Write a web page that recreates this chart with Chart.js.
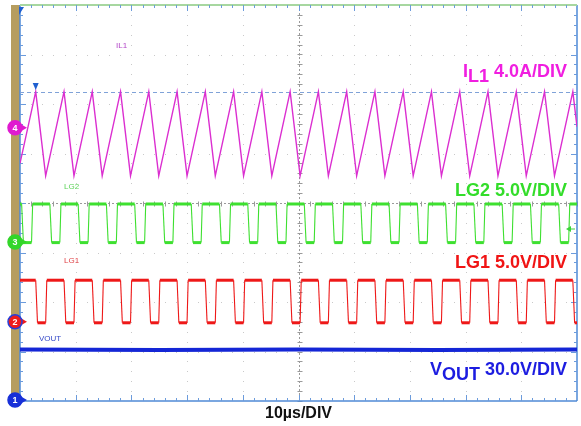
<!DOCTYPE html>
<html>
<head>
<meta charset="utf-8">
<title>Boost converter switching waveforms</title>
<script src="https://cdn.jsdelivr.net/npm/chart.js@4.4.1/dist/chart.umd.min.js"></script>
<style>
  html, body { margin: 0; padding: 0; background: #fff; }
  #scope { display: block; }
</style>
</head>
<body>
<canvas id="scope" width="581" height="426"></canvas>
<script>
// time base: 10 divisions of 10 us, vertical: 8 divisions (values below are in divisions)
const sweepUs = 100;
const screenDivs = 8;

// inductor current IL1: peaks and valleys (us)
const il1PeakTimes = [2.82, 7.90, 12.97, 18.05, 23.12, 28.20, 33.27, 38.35, 43.42, 48.50,
                      53.57, 58.65, 63.72, 68.80, 73.87, 78.95, 84.02, 89.10, 94.17, 99.25];
const il1ValleyTimes = [4.61, 9.69, 14.76, 19.84, 24.91, 29.99, 35.06, 40.14, 45.21, 50.29,
                        55.36, 60.44, 65.51, 70.59, 75.66, 80.74, 85.81, 90.89, 95.96];
const il1Peak = 6.25, il1Valley = 4.55;
const il1Start = 4.80, il1End = 5.54;

// LG1 gate: turns on at the current valleys, off at the peaks
const lg1RiseTimes = il1ValleyTimes;
const lg1FallTimes = il1PeakTimes;
const lg1High = 2.44, lg1Low = 1.58;

// LG2 gate, 180 degrees out of phase
const lg2RiseTimes = [2.07, 7.15, 12.22, 17.30, 22.37, 27.45, 32.52, 37.60, 42.67, 47.75,
                      52.82, 57.90, 62.97, 68.05, 73.12, 78.20, 83.27, 88.35, 93.42, 98.50];
const lg2FallTimes = [0.29, 5.36, 10.44, 15.51, 20.59, 25.66, 30.74, 35.81, 40.89, 45.96,
                      51.04, 56.11, 61.19, 66.26, 71.34, 76.41, 81.49, 86.56, 91.64, 96.71];
const lg2High = 3.98, lg2Low = 3.20;

// output voltage
const voutTimes = [0, 25, 50, 75, 100];
const voutLevels = [1.04, 1.03, 1.04, 1.03, 1.04];

// channel ground markers and cursor
const cursorLevel = 6.25;
const groundMarks = [
  { ch: '4', level: 5.52, color: '#e01ad0', ring: '#e01ad0' },
  { ch: '3', level: 3.21, color: '#33d62a', ring: '#33d62a' },
  { ch: '2', level: 1.60, color: '#ee1c1c', ring: '#2840d8' },
  { ch: '1', level: 0.02, color: '#1830d8', ring: '#1830d8' }
];

function trianglePoints() {
  const pts = [{ x: 0, y: il1Start }];
  il1PeakTimes.forEach((t, i) => {
    pts.push({ x: t, y: il1Peak });
    if (i < il1ValleyTimes.length) pts.push({ x: il1ValleyTimes[i], y: il1Valley });
  });
  pts.push({ x: sweepUs, y: il1End });
  return pts;
}

function gatePoints(rises, falls, high, low, edge) {
  const edges = rises.map(t => ({ t, up: true }))
    .concat(falls.map(t => ({ t, up: false })))
    .sort((a, b) => a.t - b.t);
  let level = edges[0].up ? low : high;
  const pts = [{ x: 0, y: level }];
  edges.forEach(e => {
    pts.push({ x: e.t, y: level });
    level = e.up ? high : low;
    pts.push({ x: e.t + (e.up ? edge : edge * 1.6), y: level });
  });
  pts.push({ x: sweepUs, y: level });
  return pts;
}

// flat parts are drawn fat (noisy), edges thin
const plateauWidth = (w, thin) => ctx => ctx.p0.parsed.y === ctx.p1.parsed.y ? w : thin;

const scopeFrame = {
  id: 'scopeFrame',
  beforeDatasetsDraw(chart) {
    const { ctx, chartArea: a, scales: { x, y } } = chart;
    const line = (x1, y1, x2, y2) => { ctx.beginPath(); ctx.moveTo(x1, y1); ctx.lineTo(x2, y2); ctx.stroke(); };
    ctx.save();
    // bezel strip
    ctx.fillStyle = '#b69d5f';
    ctx.fillRect(11, a.top, a.left - 11, a.bottom - a.top + 1);

    // dotted graticule: a dot at every minor step along each division line
    ctx.fillStyle = '#c9c9c9';
    for (let i = 1; i < 10; i++) {
      const px = Math.round(x.getPixelForValue(i * 10));
      for (let k = 1; k < screenDivs * 5; k++) ctx.fillRect(px, Math.round(y.getPixelForValue(k / 5)), 1, 1);
    }
    for (let j = 1; j < screenDivs; j++) {
      const py = Math.round(y.getPixelForValue(j));
      for (let t = 2; t < sweepUs; t += 2) ctx.fillRect(Math.round(x.getPixelForValue(t)), py, 1, 1);
    }

    // centre crosshair with minor ticks
    const cx = Math.round(x.getPixelForValue(50)) + 0.5;
    const cy = Math.round(y.getPixelForValue(4)) + 0.5;
    ctx.strokeStyle = '#9a9a9a';
    ctx.lineWidth = 1;
    ctx.setLineDash([2, 2]);
    line(cx, a.top, cx, a.bottom);
    line(a.left, cy, a.right, cy);
    ctx.setLineDash([]);
    for (let t = 0; t <= sweepUs; t += 2) {
      const px = Math.round(x.getPixelForValue(t)) + 0.5;
      line(px, cy - 2, px, cy + 3);
    }
    for (let v = 0; v <= screenDivs; v += 0.2) {
      const py = Math.round(y.getPixelForValue(v)) + 0.5;
      line(cx - 2, py, cx + 3, py);
    }

    // border with ticks
    ctx.strokeStyle = '#4f8ad6';
    ctx.lineWidth = 1.5;
    line(a.left, a.top, a.left, a.bottom);
    line(a.left, a.bottom, a.right, a.bottom);
    line(a.right, a.top, a.right, a.bottom);
    ctx.strokeStyle = '#a7d7a0';
    ctx.lineWidth = 2;
    line(a.left, a.top, a.right, a.top);
    ctx.strokeStyle = '#6b9bdc';
    ctx.lineWidth = 1;
    for (let t = 2; t < sweepUs; t += 2) {
      const px = Math.round(x.getPixelForValue(t)) + 0.5;
      const len = t % 10 === 0 ? 6 : 3;
      line(px, a.top, px, a.top + len);
      line(px, a.bottom, px, a.bottom - len);
    }
    for (let k = 1; k < screenDivs * 5; k++) {
      const py = Math.round(y.getPixelForValue(k / 5)) + 0.5;
      const len = k % 5 === 0 ? 6 : 3;
      line(a.left, py, a.left + len, py);
      line(a.right, py, a.right - len, py);
    }

    // horizontal cursor
    ctx.strokeStyle = '#7fa2d8';
    ctx.setLineDash([4, 3]);
    const yc = Math.round(y.getPixelForValue(cursorLevel)) + 0.5;
    line(a.left, yc, a.right, yc);
    ctx.restore();
  },
  afterDatasetsDraw(chart) {
    const { ctx, chartArea: a, scales: { x, y } } = chart;
    ctx.save();

    // trigger position markers
    ctx.fillStyle = '#1f5fd0';
    const tx = x.getPixelForValue(il1PeakTimes[0]);
    ctx.beginPath();
    ctx.moveTo(tx - 3, 83); ctx.lineTo(tx + 3, 83); ctx.lineTo(tx, 90); ctx.fill();
    ctx.beginPath();
    ctx.moveTo(a.left - 1, 7); ctx.lineTo(a.left + 4, 7); ctx.lineTo(a.left - 1, 15); ctx.fill();

    // trigger level arrow on the right edge
    const ty = 229;
    ctx.fillStyle = '#3ad43a';
    ctx.strokeStyle = '#3ad43a';
    ctx.beginPath();
    ctx.moveTo(a.right - 11, ty); ctx.lineTo(a.right - 6, ty - 3); ctx.lineTo(a.right - 6, ty + 3); ctx.fill();
    ctx.beginPath(); ctx.moveTo(a.right - 7, ty); ctx.lineTo(a.right - 2, ty); ctx.stroke();

    // channel ground markers
    groundMarks.forEach(m => {
      const py = y.getPixelForValue(m.level);
      ctx.fillStyle = m.color;
      ctx.beginPath();
      ctx.moveTo(a.left + 1, py - 3.5); ctx.lineTo(a.left + 7, py); ctx.lineTo(a.left + 1, py + 3.5); ctx.fill();
      ctx.beginPath();
      ctx.arc(15, py, 7, 0, Math.PI * 2);
      ctx.fill();
      ctx.lineWidth = 1.5;
      ctx.strokeStyle = m.ring;
      ctx.stroke();
      ctx.fillStyle = '#ffffff';
      ctx.font = 'bold 9px "Liberation Sans"';
      ctx.textAlign = 'center';
      ctx.textBaseline = 'middle';
      ctx.fillText(m.ch, 15, py + 0.5);
    });

    // small trace tags
    ctx.textAlign = 'left';
    ctx.textBaseline = 'alphabetic';
    ctx.font = '8px "Liberation Sans"';
    const tags = [['IL1', 116, 48, '#b347c8'], ['LG2', 64, 189, '#5ed35a'], ['LG1', 64, 263, '#e0454a'], ['VOUT', 39, 341, '#3448c8']];
    tags.forEach(([txt, px, py, col]) => { ctx.fillStyle = col; ctx.fillText(txt, px, py); });

    // channel scale labels, right aligned
    ctx.font = 'bold 18px "Liberation Sans"';
    const scaleLabel = (parts, right, base, col) => {
      const w = parts.reduce((s, p) => s + ctx.measureText(p[0]).width, 0);
      let px = right - w;
      ctx.fillStyle = col;
      parts.forEach(([txt, dy]) => { ctx.fillText(txt, px, base + dy); px += ctx.measureText(txt).width; });
    };
    scaleLabel([['I', 0], ['L1', 5], [' 4.0A/DIV', 0]], 567, 77, '#f01ee0');
    scaleLabel([['LG2 5.0V/DIV', 0]], 567, 196, '#33dd2a');
    scaleLabel([['LG1 5.0V/DIV', 0]], 567, 268, '#f01414');
    scaleLabel([['V', 0], ['OUT', 5], [' 30.0V/DIV', 0]], 567, 375, '#1c1ce0');

    // time base
    ctx.font = 'bold 16px "Liberation Sans"';
    ctx.fillStyle = '#111111';
    ctx.textAlign = 'center';
    ctx.fillText('10\u00b5s/DIV', x.getPixelForValue(50), 418);
    ctx.restore();
  }
};

new Chart(document.getElementById('scope'), {
  type: 'line',
  data: {
    datasets: [
      {
        label: 'VOUT',
        data: voutTimes.map((t, i) => ({ x: t, y: voutLevels[i] })),
        borderColor: '#1426d6',
        borderWidth: 4
      },
      {
        label: 'LG1',
        data: gatePoints(lg1RiseTimes, lg1FallTimes, lg1High, lg1Low, 0.2),
        borderColor: '#ee1818',
        borderWidth: 1.2,
        segment: { borderWidth: plateauWidth(3, 1.1) }
      },
      {
        label: 'LG2',
        data: gatePoints(lg2RiseTimes, lg2FallTimes, lg2High, lg2Low, 0.2),
        borderColor: '#3ee030',
        borderWidth: 1.2,
        segment: { borderWidth: plateauWidth(3, 1.1) }
      },
      {
        label: 'IL1',
        data: trianglePoints(),
        borderColor: '#db2ed0',
        borderWidth: 1.4
      }
    ]
  },
  options: {
    responsive: false,
    animation: false,
    layout: { padding: { left: 20, top: 5, right: 4, bottom: 25 } },
    elements: { point: { radius: 0 }, line: { tension: 0 } },
    plugins: { legend: { display: false }, tooltip: { enabled: false } },
    scales: {
      x: { type: 'linear', min: 0, max: sweepUs, display: false },
      y: { min: 0, max: screenDivs, display: false }
    }
  },
  plugins: [scopeFrame]
});
</script>
</body>
</html>
